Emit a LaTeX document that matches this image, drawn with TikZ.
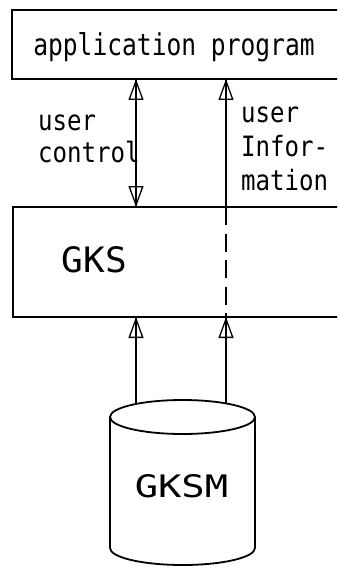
\documentclass[tikz,border=0pt]{standalone}
\usepackage{fontspec}
\usetikzlibrary{arrows.meta}
\newfontfamily\plotA[FakeStretch=0.82]{DejaVu Sans Mono}
\newfontfamily\plotL[FakeStretch=0.86]{DejaVu Sans Mono}
\newfontfamily\plotG[FakeStretch=1.03]{DejaVu Sans Mono}
\newfontfamily\plotM[FakeStretch=1.25]{DejaVu Sans Mono}
\begin{document}
\begin{tikzpicture}[x=1pt,y=-1pt,
  box/.style={inner sep=0pt, outer sep=0pt},
  edge/.style={line width=1.8pt},
  flow/.style={line width=1.3pt},
  opentip/.tip={Triangle[open,length=21pt,width=15pt,line width=1.3pt]},
  labelfont/.style={font=\plotL\fontsize{28}{32}\selectfont, inner sep=0pt}]
\useasboundingbox (0,0) rectangle (337,567);
\fill[white] (0,0) rectangle (337,567);
\clip (0,0) rectangle (337,567);
% application program box (open at right edge)
\node[box, minimum width=324pt, minimum height=69pt, text height=25pt, text depth=3pt,
      font=\plotA\fontsize{30}{32}\selectfont] (app) at (174,44.5) {application program};
\draw[edge] ([xshift=30pt]app.north east) -- (app.north west) -- (app.south west) -- ([xshift=30pt]app.south east);
% GKS box
\node[box, minimum width=324pt, minimum height=110pt] (gks) at (175,262) {};
\draw[edge] ([xshift=30pt]gks.north east) -- (gks.north west) -- (gks.south west) -- ([xshift=30pt]gks.south east);
\node[inner sep=0pt, anchor=base, font=\plotG\fontsize{35}{38}\selectfont] (gkst) at (94.5,272) {GKS};
% GKSM cylinder
\coordinate (cyl) at (182.5,417);
\draw[edge] (110,417) -- (110,548) arc[start angle=180, end angle=0, x radius=72.5, y radius=17] -- (255,417);
\draw[edge] (cyl) ellipse [x radius=72.5, y radius=17];
\node[inner sep=0pt, anchor=base, font=\plotM\fontsize{31}{34}\selectfont] (gksm) at (181.5,497) {GKSM};
% x positions of the flows
\coordinate (xa) at (136,0);
\coordinate (xb) at (226,0);
\coordinate (c1) at (136,404);
\coordinate (c2) at (226,404);
% user control (double headed)
\draw[flow] (app.south -| xa) -- (gks.north -| xa);
\draw[flow, {opentip}-{opentip}] (app.south -| xa) -- (gks.north -| xa);
% user information
\draw[flow] (app.south -| xb) -- (gks.north -| xb);
\draw[flow, {opentip}-] (app.south -| xb) -- (gks.north -| xb);
\draw[flow, dash pattern=on 18pt off 8.5pt] (gks.north -| xb) -- (gks.south -| xb);
% from GKSM to GKS
\draw[flow] (c1) -- (gks.south -| c1);
\draw[flow, -{opentip}] (c1) -- (gks.south -| c1);
\draw[flow] (c2) -- (gks.south -| c2);
\draw[flow, -{opentip}] (c2) -- (gks.south -| c2);
% labels (base anchor = baseline of last line)
\node[labelfont, anchor=base west, align=left] (uc) at (38,162) {user\\control};
\node[labelfont, font=\plotL\fontsize{28}{34}\selectfont, anchor=base west, align=left] (ui) at (241,190) {user\\Infor-\\mation};
\end{tikzpicture}
\end{document}
